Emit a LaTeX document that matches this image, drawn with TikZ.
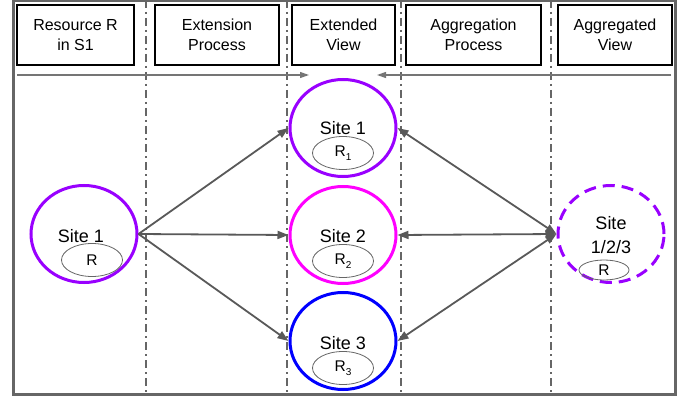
\documentclass[tikz,border=0pt]{standalone}
\usepackage{fontspec}
\setmainfont{Liberation Sans}
\usetikzlibrary{shapes.geometric,arrows.meta}
\definecolor{vio}{HTML}{9900FF}
\definecolor{mag}{HTML}{FF00FF}
\definecolor{blu}{HTML}{0000FF}
\definecolor{arr}{HTML}{595959}
\definecolor{frm}{HTML}{666666}
\begin{document}
\begin{tikzpicture}[x=1pt,y=-1pt,
 hdr/.style={draw=black,line width=1.8pt,align=center,font=\fontsize{16}{20}\selectfont,inner sep=0pt,minimum height=60pt},
 site/.style={ellipse,line width=3pt,minimum width=106pt,minimum height=97pt,inner sep=0pt},
 rell/.style={ellipse,draw=frm,line width=0.8pt,minimum width=61pt,minimum height=33pt,inner sep=0pt,font=\fontsize{15.5}{17}\selectfont},
 stxt/.style={font=\fontsize{18}{24}\selectfont,align=center,inner sep=0pt},
 sepline/.style={draw=frm,line width=2pt,dash pattern=on 8pt off 4pt on 2pt off 4pt},
 link/.style={draw=arr,line width=1.8pt,-{Triangle[length=11pt,width=8pt]}},
 dlink/.style={draw=arr,line width=1.8pt,{Triangle[length=11pt,width=8pt]}-{Triangle[length=11pt,width=8pt]}},
 flow/.style={draw=frm!90,line width=1.2pt,-{Triangle[length=9pt,width=6pt]}}
]
\fill[white] (0,0) rectangle (686,396);
\useasboundingbox (0,0) rectangle (686,396);

% separators
\foreach \x/\n in {146/a,287/b,401/c,551/d}{
  \coordinate (top\n) at (\x,0);
  \coordinate (bot\n) at (\x,393);
  \draw[sepline] (top\n) -- (bot\n);
}

% outer frame
\draw[frm,line width=3pt] (13,1) rectangle (675,394);

% headers
\node[hdr,minimum width=117pt] (h1) at (75.5,35) {Resource R\\in S1};
\node[hdr,minimum width=124pt] (h2) at (217,35) {Extension\\Process};
\node[hdr,minimum width=103pt] (h3) at (343.5,35) {Extended\\View};
\node[hdr,minimum width=135pt] (h4) at (473.5,35) {Aggregation\\Process};
\node[hdr,minimum width=114pt] (h5) at (615,35) {Aggregated\\View};

% flow arrows
\coordinate (fl0) at (17,75);
\coordinate (fl1) at (309,75);
\coordinate (fr0) at (671,75);
\coordinate (fr1) at (377,75);
\draw[flow] (fl0) -- (fl1);
\draw[flow] (fr0) -- (fr1);

% left site
\node[site,draw=vio] (s1) at (84,234) {};
\node[stxt] (s1t) at (81,236) {Site 1};
\node[rell] (s1r) at (92,260) {R};

% extended view
\node[site,draw=vio] (e1) at (343,128) {};
\node[stxt] (e1t) at (343,128) {Site 1};
\node[rell] (e1r) at (343,153) {R\raisebox{-4.5pt}{\fontsize{10}{11}\selectfont 1}};

\node[site,draw=mag] (e2) at (343,235) {};
\node[stxt] (e2t) at (343,236) {Site 2};
\node[rell] (e2r) at (343,261) {R\raisebox{-4.5pt}{\fontsize{10}{11}\selectfont 2}};

\node[site,draw=blu] (e3) at (343,341) {};
\node[stxt] (e3t) at (343,343) {Site 3};
\node[rell] (e3r) at (343,368) {R\raisebox{-4.5pt}{\fontsize{10}{11}\selectfont 3}};

% aggregated
\node[site,draw=vio,dash pattern=on 12pt off 7pt] (ag) at (611,234) {};
\node[stxt] (agt) at (611,235) {Site\\1/2/3};
\node[rell,minimum width=50pt,minimum height=20pt] (agr) at (604,270) {R};

% arrows
\draw[link] (s1.east) -- (e1.west);
\draw[link] (s1.east) -- (e2.west);
\draw[link] (s1.east) -- (e3.west);
\draw[dlink] (e1.east) -- (ag.west);
\draw[dlink] (e2.east) -- (ag.west);
\draw[dlink] (e3.east) -- (ag.west);
\end{tikzpicture}
\end{document}
